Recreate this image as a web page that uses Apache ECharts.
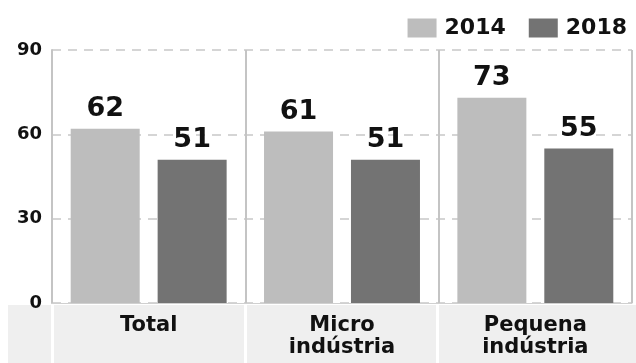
<!DOCTYPE html>
<html>
<head>
<meta charset="utf-8">
<title>chart</title>
<script src="https://cdn.jsdelivr.net/npm/echarts@6/dist/echarts.min.js"></script>
<style>
	html,body{margin:0;padding:0;background:#fff;}
	#main{width:636px;height:363px;}
</style>
</head>
<body>
<div id="main"></div>
<script type="text/javascript">
	var categories = ['Total', 'Micro\nindústria', 'Pequena\nindústria'];
	var seriesNames = ['2014', '2018'];
	var values2014 = [62, 61, 73];
	var values2018 = [51, 51, 55];
	var yTicks = [0, 30, 60, 90];

	var font = 'DejaVu Sans';
	var myChart = echarts.init(document.getElementById('main'));

	var option = {
		animation: false,
		color: ['#bdbdbd', '#737373'],
		grid: { left: 52, right: 4, top: 50, bottom: 60 },
		legend: {
			data: seriesNames,
			right: 4,
			top: 12,
			icon: 'rect',
			itemWidth: 29,
			itemHeight: 19,
			itemGap: 23,
			textStyle: { fontFamily: font, fontWeight: 'bold', fontSize: 22, color: '#111', padding: [0, 0, 0, 3] }
		},
		graphic: [
			// faixa cinza das categorias
			{ type: 'rect', z: -10, shape: { x: 8, y: 305, width: 628, height: 58 }, style: { fill: '#efefef' } },
			{ type: 'rect', z: -9, shape: { x: 51, y: 305, width: 3, height: 58 }, style: { fill: '#fff' } },
			{ type: 'rect', z: -9, shape: { x: 244, y: 305, width: 3, height: 58 }, style: { fill: '#fff' } },
			{ type: 'rect', z: -9, shape: { x: 436, y: 305, width: 3, height: 58 }, style: { fill: '#fff' } }
		],
		xAxis: {
			type: 'category',
			data: categories,
			axisLine: { show: true, lineStyle: { color: '#d0d0d0', width: 1 } },
			axisTick: { show: false },
			splitLine: { show: true, lineStyle: { color: '#c4c4c4', width: 2 } },
			axisLabel: {
				fontFamily: font, fontWeight: 'bold', fontSize: 21, lineHeight: 22,
				color: '#111', margin: 12
			}
		},
		yAxis: {
			type: 'value',
			min: yTicks[0],
			max: yTicks[yTicks.length - 1],
			interval: 30,
			axisLine: { show: true, lineStyle: { color: '#c4c4c4', width: 2 } },
			axisTick: { show: false },
			splitLine: { show: true, lineStyle: { color: '#c8c8c8', width: 1.5, type: [9, 7] } },
			axisLabel: { fontFamily: font, fontWeight: 'bold', fontSize: 18, color: '#111', margin: 10 }
		},
		series: [
			{
				name: seriesNames[0], type: 'bar', data: values2014,
				barWidth: 69, barGap: '26%',
				label: { show: true, position: 'top', distance: 6, fontFamily: font, fontWeight: 'bold', fontSize: 27, color: '#111' }
			},
			{
				name: seriesNames[1], type: 'bar', data: values2018,
				barWidth: 69,
				label: { show: true, position: 'top', distance: 6, fontFamily: font, fontWeight: 'bold', fontSize: 27, color: '#111' }
			}
		]
	};
	myChart.setOption(option);
</script>
</body>
</html>
